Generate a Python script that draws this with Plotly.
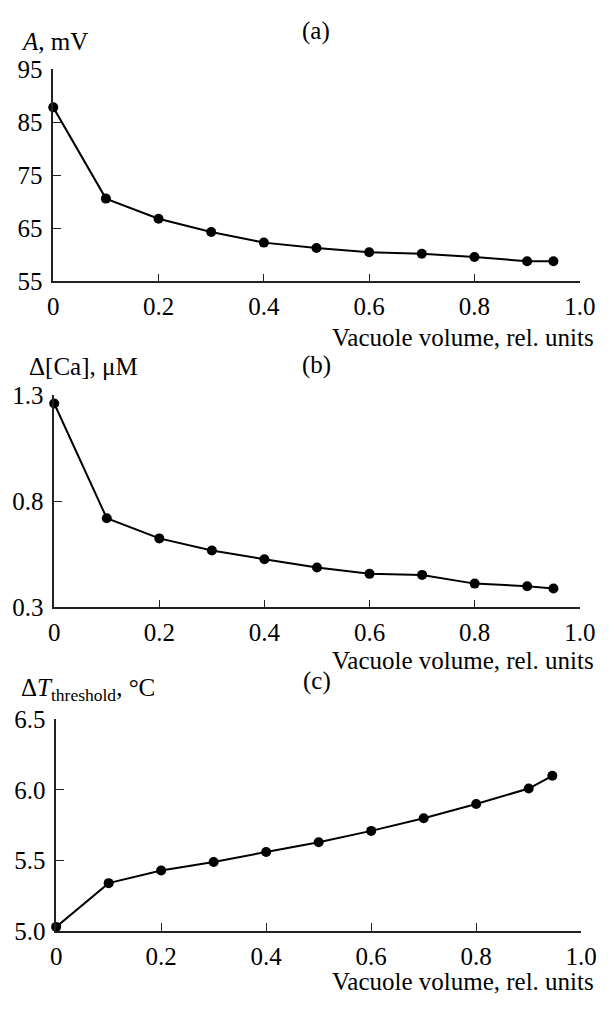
import plotly.graph_objects as go

# ---- data ----
vacuole_volume = [0, 0.1, 0.2, 0.3, 0.4, 0.5, 0.6, 0.7, 0.8, 0.9, 0.95]
vacuole_volume_c = [0, 0.1, 0.2, 0.3, 0.4, 0.5, 0.6, 0.7, 0.8, 0.9, 0.945]
amplitude_mV = [87.8, 70.6, 66.8, 64.3, 62.3, 61.3, 60.5, 60.2, 59.6, 58.8, 58.8]
delta_ca_uM = [1.26, 0.72, 0.625, 0.568, 0.527, 0.488, 0.458, 0.453, 0.412, 0.400, 0.389]
delta_t_threshold = [5.03, 5.34, 5.43, 5.49, 5.56, 5.63, 5.71, 5.80, 5.90, 6.01, 6.10]

x_tickvals = [0, 0.2, 0.4, 0.6, 0.8, 1.0]
x_ticktext = ["0", "0.2", "0.4", "0.6", "0.8", "1.0"]
ya_ticks = [55, 65, 75, 85, 95]
yb_ticks = [0.3, 0.8, 1.3]
yb_text = ["0.3", "0.8", "1.3"]
yc_ticks = [5.0, 5.5, 6.0, 6.5]
yc_text = ["5.0", "5.5", "6.0", "6.5"]

W, H = 616, 1012
FONT = "Liberation Serif, Times New Roman, serif"
FS = 25
AX = "#222222"


def px_x(p):
    return p / W


def px_y(p):
    return 1 - p / H


fig = go.Figure()
series = [
    (vacuole_volume, amplitude_mV, "x", "y"),
    (vacuole_volume, delta_ca_uM, "x2", "y2"),
    (vacuole_volume_c, delta_t_threshold, "x3", "y3"),
]
for xs, ys, xa, ya in series:
    fig.add_trace(go.Scatter(
        x=xs, y=ys, xaxis=xa, yaxis=ya, mode="lines+markers",
        line=dict(color="black", width=2),
        marker=dict(color="black", size=10),
        cliponaxis=False, showlegend=False,
    ))

common_x = dict(
    range=[0, 1.0], tickvals=x_tickvals, ticktext=x_ticktext,
    ticks="inside", ticklen=8, tickwidth=1.3, tickcolor=AX,
    showline=True, linecolor=AX, linewidth=1.5, showgrid=False, zeroline=False,
    tickfont=dict(family=FONT, size=FS, color="black"), ticklabelstandoff=2,
)
common_y = dict(
    ticks="inside", ticklen=8, tickwidth=1.3, tickcolor=AX,
    showline=True, linecolor=AX, linewidth=1.5, showgrid=False, zeroline=False,
    tickfont=dict(family=FONT, size=FS, color="black"), ticklabelstandoff=4,
)

fig.update_layout(
    width=W, height=H,
    margin=dict(l=0, r=0, t=0, b=0),
    paper_bgcolor="white", plot_bgcolor="white",
    font=dict(family=FONT, size=FS, color="black"),
    xaxis=dict(domain=[px_x(49), px_x(595)], anchor="y", **common_x),
    yaxis=dict(domain=[px_y(275.7), px_y(57.7)], anchor="x", range=[55, 95],
               tickvals=ya_ticks, **common_y),
    xaxis2=dict(domain=[px_x(50), px_x(595)], anchor="y2", **common_x),
    yaxis2=dict(domain=[px_y(610.7), px_y(392.5)], anchor="x2", range=[0.3, 1.3],
                tickvals=yb_ticks, ticktext=yb_text, **common_y),
    xaxis3=dict(domain=[px_x(52), px_x(596.5)], anchor="y3", **common_x),
    yaxis3=dict(domain=[px_y(943.3), px_y(725.7)], anchor="x3", range=[5.0, 6.5],
                tickvals=yc_ticks, ticktext=yc_text, **common_y),
)

ann_font = dict(family=FONT, size=FS, color="black")
annotations = [
    # y-axis titles
    ("<i>A</i>, mV", 13, 29, "left"),
    ("Δ[Ca], μM", 22, 363, "left"),
    ("Δ<i>T</i><sub>threshold</sub>, °C", 13, 695, "left"),
    # panel labels
    ("(a)", 321, 19, "center"),
    ("(b)", 322, 362, "center"),
    ("(c)", 322, 686, "center"),
    # x-axis titles
    ("Vacuole volume, rel. units", 612, 333, "right"),
    ("Vacuole volume, rel. units", 612, 665, "right"),
    ("Vacuole volume, rel. units", 612, 995, "right"),
]
for text, x, y, anchor in annotations:
    fig.add_annotation(
        text=text, xref="paper", yref="paper", x=px_x(x), y=px_y(y),
        xanchor=anchor, yanchor="middle", showarrow=False, font=ann_font,
    )

fig.write_html("out.html")
